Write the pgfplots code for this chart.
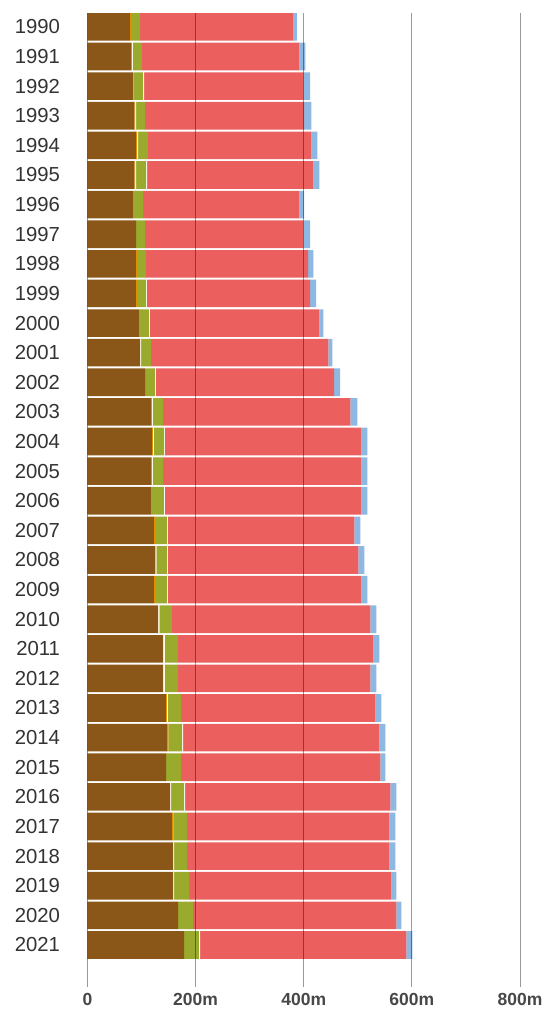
\documentclass[border=0pt]{standalone}
\usepackage{fontspec}
\setmainfont{Liberation Sans}
\usepackage{pgfplots}
\usepackage{pgfplotstable}
\pgfplotsset{compat=1.18}
\definecolor{cbrown}{RGB}{139,87,24}
\definecolor{corange}{RGB}{240,150,0}
\definecolor{cgap}{RGB}{255,252,236}
\definecolor{cgreen}{RGB}{154,170,44}
\definecolor{cred}{RGB}{235,95,95}
\definecolor{cblue}{RGB}{140,184,226}
\definecolor{labgray}{RGB}{51,51,51}

% year, brown, orange, gap, green, gap, red, blue
\pgfplotstableread{
year B O W1 G W2 R Bl
1990 78.7 1.9 0 16.6 0 282.8 7.4
1991 80.6 1.3 1.8 16.7 0 291.3 11.1
1992 83.7 1.1 0 18.0 1.8 295.0 12.4
1993 86.7 1.3 1.8 16.7 0 294.4 13.0
1994 89.8 1.9 1.8 18.0 0 302.4 11.1
1995 86.7 1.3 1.8 18.5 1.9 307.4 11.1
1996 84.3 1.3 0 17.2 0 288.9 9.2
1997 89.8 0 0 16.7 0 292.6 12.9
1998 89.8 1.3 0 16.7 0 300.5 9.3
1999 89.8 1.3 0 17.2 1.3 302.4 11.1
2000 95.4 1.3 0 17.2 1.3 313.5 7.4
2001 97.2 0 1.9 17.9 0 328.4 7.4
2002 106.5 0 0 18.5 1.3 330.0 11.1
2003 117.6 1.3 1.8 18.6 0 346.8 13.0
2004 119.4 1.3 1.9 19.1 1.3 363.5 11.1
2005 117.6 1.3 1.8 18.6 0 367.2 11.1
2006 117.6 1.3 0 22.2 1.9 363.5 11.1
2007 123.1 1.3 0 22.8 1.3 345.0 11.1
2008 125.6 0 1.8 19.8 1.3 352.4 11.1
2009 123.1 1.3 0 22.8 1.3 358.0 11.1
2010 130.6 0 2.4 22.9 0 367.2 11.2
2011 139.8 0 3.2 24.0 0 361.7 11.1
2012 139.8 0 3.2 24.0 0 356.1 11.1
2013 144.8 1.9 1.8 24.6 0 359.3 11.1
2014 147.2 2.4 0 25.4 1.9 362.9 11.1
2015 145.4 0 0 27.7 0 368.6 9.2
2016 152.8 0 1.8 24.1 1.9 379.6 11.1
2017 156.5 2.4 0 25.4 0 374.0 11.1
2018 158.3 0 1.9 24.1 0 374.0 11.1
2019 158.3 0 1.9 27.8 0 374.0 9.3
2020 167.6 0 0 27.8 0 375.9 9.3
2021 178.7 0 0 27.2 2.4 381.5 11.2
}\data

\begin{document}
\begin{tikzpicture}
\useasboundingbox (-87.5pt,-30pt) rectangle (459.5pt,987pt);
\begin{axis}[
  at={(0pt,0pt)}, anchor=south west,
  scale only axis,
  width=432.5pt, height=974pt,
  xbar stacked,
  bar width=27.6pt,
  xmin=0, xmax=800,
  ymin=1989.53, ymax=2022.42,
  y dir=reverse,
  ytick={1990,...,2021},
  xtick={0,200,400,600,800},
  xticklabels={0,200m,400m,600m,800m},
  /pgf/number format/assume math mode=true,
  /pgf/number format/set thousands separator={},
  yticklabel style={font=\fontsize{20.3}{21}\selectfont, text=labgray,
    anchor=east, xshift=-24pt},
  xticklabel style={font=\fontsize{17.5}{18}\selectfont\bfseries,
    text=labgray!90, yshift=-3pt},
  major tick length=0pt,
  axis line style={draw=none},
  xmajorgrids,
  grid style={black, opacity=0.4, line width=1pt},
  axis on top,
]
\addplot[fill=cbrown, draw=none] table[x=B, y=year] {\data};
\addplot[fill=corange, draw=none] table[x=O, y=year] {\data};
\addplot[fill=cgap, draw=none] table[x=W1, y=year] {\data};
\addplot[fill=cgreen, draw=none] table[x=G, y=year] {\data};
\addplot[fill=white, draw=none] table[x=W2, y=year] {\data};
\addplot[fill=cred, draw=none] table[x=R, y=year] {\data};
\addplot[fill=cblue, draw=none] table[x=Bl, y=year] {\data};
\end{axis}
\end{tikzpicture}
\end{document}
